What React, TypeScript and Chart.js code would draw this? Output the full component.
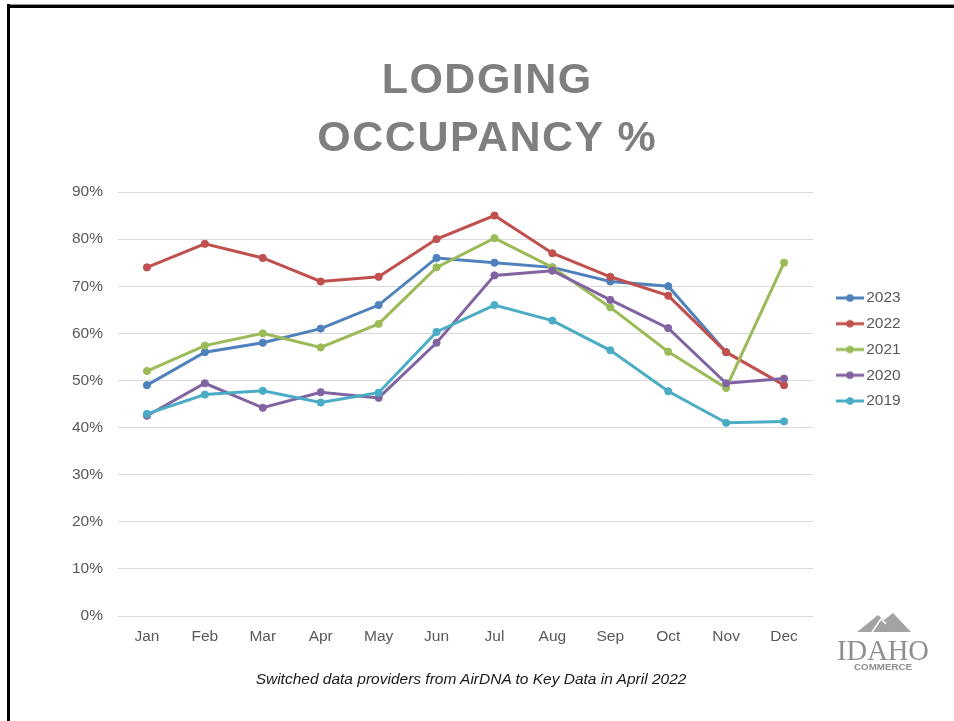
import React, { useEffect, useRef } from 'react';
import { Chart, registerables } from 'chart.js';

Chart.register(...registerables);

const months = ['Jan', 'Feb', 'Mar', 'Apr', 'May', 'Jun', 'Jul', 'Aug', 'Sep', 'Oct', 'Nov', 'Dec'];
const seriesLabels = ['2023', '2022', '2021', '2020', '2019'];
const occ2023 = [49, 56, 58, 61, 66, 76, 75, 74, 71, 70, 56, null];
const occ2022 = [74, 79, 76, 71, 72, 80, 85, 77, 72, 68, 56, 49];
const occ2021 = [52, 57.4, 60, 57, 62, 74, 80.2, 74, 65.5, 56.1, 48.4, 75];
const occ2020 = [42.5, 49.4, 44.2, 47.5, 46.3, 58, 72.3, 73.3, 67.1, 61.1, 49.4, 50.4];
const occ2019 = [42.9, 47, 47.8, 45.3, 47.4, 60.3, 66, 62.7, 56.4, 47.7, 41, 41.3];
const seriesValues = [occ2023, occ2022, occ2021, occ2020, occ2019];
const seriesColors = ['#4F81BD', '#C0504D', '#9BBB59', '#8064A2', '#4BACC6'];
const yMin = 0;
const yMax = 90;
const yStep = 10;

const titleLines = ['LODGING', 'OCCUPANCY %'];
const footnote = 'Switched data providers from AirDNA to Key Data in April 2022';

const FONT = "'Liberation Sans', Arial, sans-serif";
const TEXT_GRAY = '#595959';

function makeLegendIcon(color: string): HTMLCanvasElement {
  const c = document.createElement('canvas');
  c.width = 28;
  c.height = 10;
  const ctx = c.getContext('2d')!;
  ctx.strokeStyle = color;
  ctx.lineWidth = 3;
  ctx.beginPath();
  ctx.moveTo(0, 5);
  ctx.lineTo(28, 5);
  ctx.stroke();
  ctx.fillStyle = color;
  ctx.beginPath();
  ctx.arc(14, 5, 3.8, 0, Math.PI * 2);
  ctx.fill();
  return c;
}

const LEGEND_PAD = 10.25;
const LEGEND_FONT = 15.5;

const legendPlacer = {
  id: 'legendPlacer',
  afterLayout(chart: any) {
    const lg = chart.legend;
    if (!lg) return;
    lg.left = 841.5 - LEGEND_PAD;
    lg.right = lg.left + lg.width;
    lg.top = 298 - LEGEND_PAD - LEGEND_FONT / 2;
    lg.height = 220;
    lg.bottom = lg.top + 220;
  },
};

export default function App() {
  const canvasRef = useRef<HTMLCanvasElement | null>(null);

  useEffect(() => {
    if (!canvasRef.current) return;
    Chart.defaults.font.family = FONT;
    const icons = seriesColors.map((c) => makeLegendIcon(c));
    const chart = new Chart(canvasRef.current, {
      type: 'line',
      data: {
        labels: months,
        datasets: seriesLabels.map((label, i) => ({
          label,
          data: seriesValues[i],
          borderColor: seriesColors[i],
          backgroundColor: seriesColors[i],
          pointBackgroundColor: seriesColors[i],
          pointBorderColor: seriesColors[i],
          borderWidth: 3,
          pointRadius: 3.6,
          pointBorderWidth: 1,
          tension: 0,
          fill: false,
          order: seriesLabels.length - i,
        })),
      },
      options: {
        responsive: false,
        animation: false,
        events: [],
        layout: {
          padding: { left: 58, top: 192, right: 61.5, bottom: 45 },
        },
        scales: {
          x: {
            offset: true,
            grid: { display: false, drawTicks: false },
            border: { display: false },
            ticks: {
              color: TEXT_GRAY,
              font: { size: 15.5, family: FONT },
              padding: 11,
              maxRotation: 0,
              autoSkip: false,
            },
            afterFit(scale: any) {
              scale.height = 60;
            },
          },
          y: {
            min: yMin,
            max: yMax,
            grid: { color: '#d9d9d9', lineWidth: 1, drawTicks: false },
            border: { display: false },
            ticks: {
              stepSize: yStep,
              color: TEXT_GRAY,
              font: { size: 15.5, family: FONT },
              padding: 15,
              callback: (v: any) => `${v}%`,
            },
            afterFit(scale: any) {
              scale.width = 60;
            },
          },
        },
        plugins: {
          title: { display: false },
          tooltip: { enabled: false },
          legend: {
            display: true,
            position: 'right',
            align: 'start',
            labels: {
              usePointStyle: true,
              pointStyleWidth: 17,
              padding: LEGEND_PAD,
              color: TEXT_GRAY,
              font: { size: LEGEND_FONT, family: FONT },
              generateLabels: (ch: any) =>
                ch.data.datasets.map((ds: any, i: number) => ({
                  text: ds.label,
                  fillStyle: ds.borderColor,
                  strokeStyle: ds.borderColor,
                  fontColor: TEXT_GRAY,
                  lineWidth: 0,
                  pointStyle: icons[i],
                  hidden: false,
                  datasetIndex: i,
                })),
            },
          },
        },
      } as any,
      plugins: [legendPlacer],
    });
    return () => chart.destroy();
  }, []);

  return (
    <div
      style={{
        position: 'absolute',
        left: 0,
        top: 0,
        width: 954,
        height: 721,
        background: '#ffffff',
        overflow: 'hidden',
        fontFamily: FONT,
      }}
    >
      <div style={{ position: 'absolute', left: 7, top: 4, width: 947, height: 1, background: '#9a9a9a' }} />
      <div style={{ position: 'absolute', left: 7, top: 5, width: 947, height: 2.5, background: '#000000' }} />
      <div style={{ position: 'absolute', left: 7, top: 4, width: 2.5, height: 717, background: '#000000' }} />
      <canvas
        ref={canvasRef}
        width={954}
        height={721}
        style={{ position: 'absolute', left: 0, top: 0, width: 954, height: 721, display: 'block' }}
      />
      <div
        style={{
          position: 'absolute',
          left: 0,
          top: 49,
          width: 974.5,
          textAlign: 'center',
          fontFamily: FONT,
          fontWeight: 'bold',
          fontSize: 43,
          lineHeight: '58px',
          letterSpacing: '1.5px',
          color: '#7f7f7f',
          whiteSpace: 'nowrap',
        }}
      >
        {titleLines.map((t) => (
          <div key={t}>{t}</div>
        ))}
      </div>
      <div
        style={{
          position: 'absolute',
          left: 0,
          top: 669,
          width: 942,
          textAlign: 'center',
          fontFamily: FONT,
          fontStyle: 'italic',
          fontSize: 15.5,
          lineHeight: '20px',
          color: '#1a1a1a',
          whiteSpace: 'nowrap',
        }}
      >
        {footnote}
      </div>
      <svg
        width={120}
        height={80}
        viewBox="830 600 120 80"
        style={{ position: 'absolute', left: 830, top: 600 }}
      >
        <polygon points="857,632 878,615 884,620 893,613 911,632" fill="#a3a3a3" />
        <polyline points="872,632 881,619 886,624" fill="none" stroke="#ffffff" strokeWidth={1.5} />
        <text
          x={837}
          y={660}
          fontFamily="'Liberation Serif', serif"
          fontSize={30}
          fill="#8f8f8f"
          textLength={92}
          lengthAdjust="spacingAndGlyphs"
        >
          IDAHO
        </text>
        <text
          x={854}
          y={670}
          fontFamily={FONT}
          fontWeight="bold"
          fontSize={9.5}
          fill="#8f8f8f"
          textLength={58}
          lengthAdjust="spacingAndGlyphs"
        >
          COMMERCE
        </text>
      </svg>
    </div>
  );
}
